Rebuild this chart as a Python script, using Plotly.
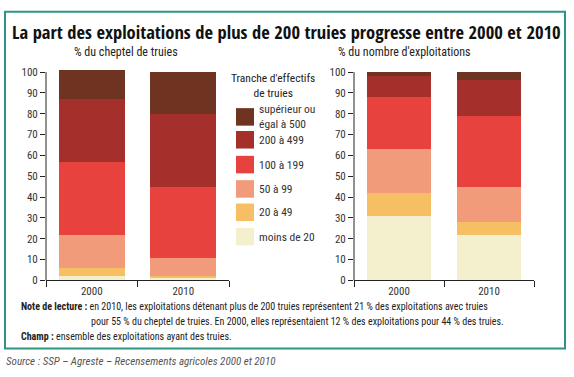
import plotly.graph_objects as go

years = ["2000", "2010"]
classes = ["moins de 20", "20 à 49", "50 à 99", "100 à 199", "200 à 499", "supérieur ou<br>égal à 500"]
colors = ["#F4F0CD", "#F6BF63", "#F29B7A", "#E8423F", "#A52F2A", "#6E3421"]

# % du cheptel de truies (per class, for 2000 and 2010)
cheptel = {
    "moins de 20": [2, 1],
    "20 à 49": [4, 1],
    "50 à 99": [16, 9],
    "100 à 199": [35, 34],
    "200 à 499": [30, 35],
    "supérieur ou<br>égal à 500": [14, 20],
}
# % du nombre d'exploitations
exploitations = {
    "moins de 20": [31, 22],
    "20 à 49": [11, 6],
    "50 à 99": [21, 17],
    "100 à 199": [25, 34],
    "200 à 499": [10, 17],
    "supérieur ou<br>égal à 500": [2, 4],
}
yticks = [0, 10, 20, 30, 40, 50, 60, 70, 80, 90, 100]

W, H = 574, 377
FONT = "Roboto Condensed, Roboto, sans-serif"
TFONT = "Open Sans Condensed, Roboto Condensed, sans-serif"

def px(x):
    return x / W

def py(y):
    return 1 - y / H

fig = go.Figure()
for cls, col in zip(classes, colors):
    fig.add_trace(go.Bar(x=years, y=cheptel[cls], name=cls, marker_color=col,
                         marker_line_width=0, width=0.72, xaxis="x", yaxis="y",
                         showlegend=False))
    fig.add_trace(go.Bar(x=years, y=exploitations[cls], name=cls, marker_color=col,
                         marker_line_width=0, width=0.72, xaxis="x2", yaxis="y2",
                         showlegend=False))

ydom = [py(285), py(67.8)]
yax = dict(range=[0, 101.5], domain=ydom, tickvals=yticks, ticks="outside", ticklen=5,
           tickcolor="#222", showline=False, showgrid=False, zeroline=False,
           tickfont=dict(family=FONT, size=11, color="#333"))
xax = dict(type="category", tickson="boundaries", ticks="outside", ticklen=6,
           tickcolor="#222", showline=True, linecolor="#222", linewidth=1,
           showgrid=False, tickfont=dict(family=FONT, size=11, color="#333"))

fig.update_layout(
    width=W, height=H, margin=dict(l=0, r=0, t=0, b=0),
    paper_bgcolor="white", plot_bgcolor="white", barmode="stack", bargap=0.28,
    xaxis=dict(xax, domain=[px(46), px(229)], anchor="y"),
    yaxis=dict(yax, anchor="x"),
    xaxis2=dict(xax, domain=[px(354), px(534)], anchor="y2"),
    yaxis2=dict(yax, anchor="x2"),
    showlegend=False,
)

shapes = []
# y axis lines from 0 to 100
for xr, yr in [("x domain", "y"), ("x2 domain", "y2")]:
    shapes.append(dict(type="line", xref=xr, yref=yr, x0=0, x1=0, y0=0, y1=100,
                       line=dict(color="#222", width=1)))
# frame
shapes.append(dict(type="rect", xref="paper", yref="paper", x0=px(5), x1=px(565),
                   y0=py(355), y1=py(9), line=dict(color="#2E9484", width=2)))

annotations = []
# legend (built from classes / colors)
annotations.append(dict(xref="paper", yref="paper", x=px(273), y=py(85),
                        text="Tranche d'effectifs<br>de truies", showarrow=False,
                        font=dict(family=FONT, size=11.5, color="#222"),
                        xanchor="center", yanchor="middle", align="center"))
centers = [117, 140.5, 166, 191, 215, 240]
for cls, col, cy in zip(reversed(classes), reversed(colors), centers):
    shapes.append(dict(type="rect", xref="paper", yref="paper", x0=px(236), x1=px(254),
                       y0=py(cy + 9), y1=py(cy - 9), fillcolor=col, line_width=0))
    annotations.append(dict(xref="paper", yref="paper", x=px(257), y=py(cy),
                            text=cls, showarrow=False, xanchor="left", yanchor="middle",
                            align="left",
                            font=dict(family=FONT, size=11.5, color="#333")))

# titles
annotations.append(dict(xref="paper", yref="paper", x=px(286), y=py(29.5),
                        text="La part des exploitations de plus de 200 truies progresse entre 2000 et 2010",
                        showarrow=False, xanchor="center", yanchor="middle",
                        font=dict(family=TFONT, size=18.5, color="#111")))
annotations.append(dict(xref="paper", yref="paper", x=px(126), y=py(50),
                        text="% du cheptel de truies", showarrow=False,
                        xanchor="center", yanchor="middle",
                        font=dict(family=FONT, size=12, color="#222")))
annotations.append(dict(xref="paper", yref="paper", x=px(404), y=py(50),
                        text="% du nombre d'exploitations", showarrow=False,
                        xanchor="center", yanchor="middle",
                        font=dict(family=FONT, size=12, color="#222")))
# notes
nf = dict(family=FONT, size=10, color="#222")
annotations.append(dict(xref="paper", yref="paper", x=px(19), y=py(312),
                        text="<b>Note de lecture :</b> en 2010, les exploitations détenant plus de 200 truies représentent 21 % des exploitations avec truies",
                        showarrow=False, xanchor="left", yanchor="middle", font=nf))
annotations.append(dict(xref="paper", yref="paper", x=px(89), y=py(327),
                        text="pour 55 % du cheptel de truies. En 2000, elles représentaient 12 % des exploitations pour 44 % des truies.",
                        showarrow=False, xanchor="left", yanchor="middle", font=nf))
annotations.append(dict(xref="paper", yref="paper", x=px(19), y=py(343),
                        text="<b>Champ :</b> ensemble des exploitations ayant des truies.",
                        showarrow=False, xanchor="left", yanchor="middle", font=nf))
annotations.append(dict(xref="paper", yref="paper", x=px(4), y=py(368),
                        text="<i>Source : SSP – Agreste – Recensements agricoles 2000 et 2010</i>",
                        showarrow=False, xanchor="left", yanchor="middle",
                        font=dict(family=FONT, size=11, color="#555")))

fig.update_layout(shapes=shapes, annotations=annotations)
fig.write_html("out.html", config={"displayModeBar": False},
               post_script="document.body.style.margin='0';document.body.style.overflow='hidden';")
